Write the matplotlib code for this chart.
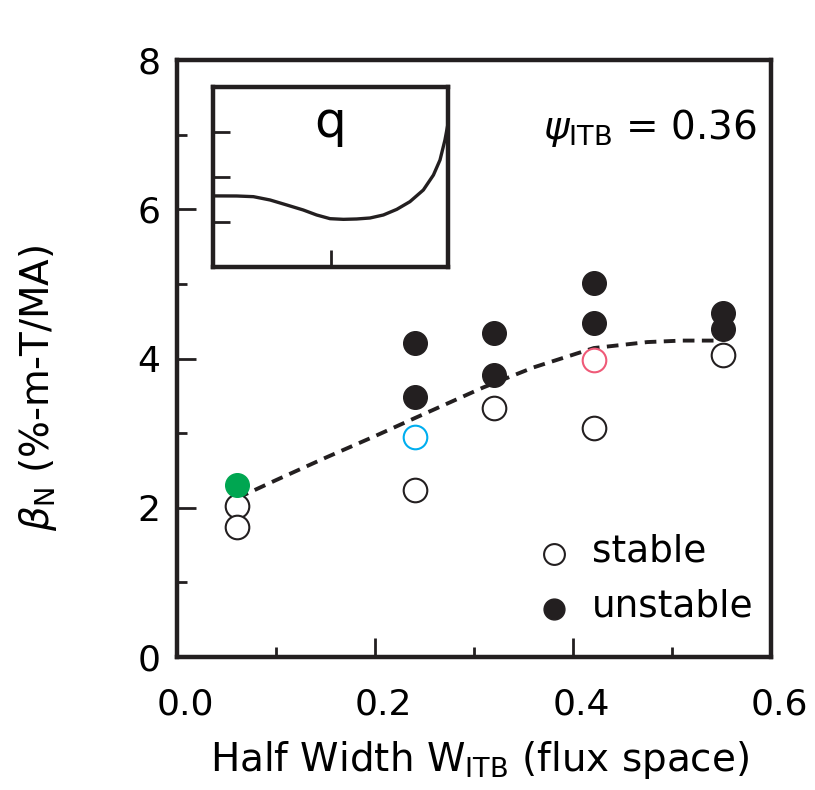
import matplotlib
matplotlib.use("Agg")
from matplotlib import pyplot as plt
from matplotlib.ticker import MultipleLocator
from matplotlib.transforms import ScaledTranslation

# main panel data
stable_x = [0.061, 0.061, 0.240, 0.320, 0.421, 0.552]
stable_y = [2.02, 1.74, 2.24, 3.34, 3.07, 4.05]
unstable_x = [0.240, 0.240, 0.320, 0.320, 0.421, 0.421, 0.552, 0.552]
unstable_y = [4.21, 3.49, 4.34, 3.78, 5.01, 4.48, 4.61, 4.40]
green_pt = (0.061, 2.31)
cyan_pt = (0.240, 2.95)
pink_pt = (0.421, 3.98)

# dashed trend curve
fit_x = [0.061, 0.10, 0.15, 0.20, 0.240, 0.309, 0.36, 0.421, 0.475, 0.51, 0.546]
fit_y = [2.13, 2.37, 2.67, 2.96, 3.20, 3.61, 3.88, 4.14, 4.22, 4.24, 4.24]

# inset q profile
q_x = [0.0, 0.101, 0.172, 0.243, 0.314, 0.384, 0.441, 0.498, 0.555, 0.611,
       0.668, 0.725, 0.782, 0.838, 0.895, 0.938, 0.966, 0.987, 0.999]
q_y = [1.58, 1.578, 1.563, 1.489, 1.378, 1.267, 1.156, 1.074, 1.059, 1.067,
       1.089, 1.156, 1.281, 1.452, 1.711, 2.044, 2.378, 2.822, 3.156]

ink = '#231f20'

fig = plt.figure(figsize=(8.15, 7.9), dpi=100)
ax = fig.add_axes([177/815, 133/790, 594/815, 597/790])

ax.plot(fit_x, fit_y, color=ink, lw=2.8, dashes=(3.0, 1.9), zorder=2)
ax.plot(stable_x, stable_y, 'o', ms=17, mfc='white', mec=ink, mew=1.5, zorder=3)
ax.plot(unstable_x, unstable_y, 'o', ms=17, mfc=ink, mec=ink, mew=1.0, zorder=3)
ax.plot(*green_pt, 'o', ms=17, mfc='#00a651', mec='#00a651', zorder=4)
ax.plot(*cyan_pt, 'o', ms=17, mfc='white', mec='#00aeef', mew=1.5, zorder=4)
ax.plot(*pink_pt, 'o', ms=17, mfc='white', mec='#ef5a78', mew=1.5, zorder=4)

ax.set_xlim(0, 0.6)
ax.set_ylim(0, 8)
ax.xaxis.set_major_locator(MultipleLocator(0.2))
ax.xaxis.set_minor_locator(MultipleLocator(0.1))
ax.yaxis.set_major_locator(MultipleLocator(2))
ax.yaxis.set_minor_locator(MultipleLocator(1))
ax.set_xticks([0.0, 0.2, 0.4, 0.6])
ax.set_xticklabels(['0.0', '0.2', '0.4', '0.6'])
ax.tick_params(which='both', direction='in', width=2, color=ink, labelsize=26, top=False, right=False)
ax.tick_params(which='major', length=14)
ax.tick_params(which='minor', length=7)
ax.tick_params(axis='x', pad=22)
ax.tick_params(axis='y', pad=12)
shift = ScaledTranslation(8/100, 0, fig.dpi_scale_trans)
for lab in ax.get_xticklabels():
    lab.set_transform(lab.get_transform() + shift)
for s in ax.spines.values():
    s.set_linewidth(3.2)
    s.set_color(ink)

ax.set_xlabel(r'Half Width W$_{\rm ITB}$ (flux space)', fontsize=28)
ax.xaxis.set_label_coords(0.51, -0.138)
ax.set_ylabel(r'$\beta_{\rm N}$ (%-m-T/MA)', fontsize=28)
ax.yaxis.set_label_coords(-0.198, 0.45)

ax.text(0.976, 0.886, r'$\psi_{\rm ITB}$ = 0.36', transform=ax.transAxes,
        fontsize=28, ha='right', va='center')

# legend drawn by hand to match the placement
ax.plot([0.635], [0.172], 'o', ms=15, mfc='white', mec=ink, mew=1.5, transform=ax.transAxes)
ax.plot([0.635], [0.080], 'o', ms=15, mfc=ink, mec=ink, transform=ax.transAxes)
ax.text(0.699, 0.176, 'stable', fontsize=27, ha='left', va='center', transform=ax.transAxes)
ax.text(0.699, 0.084, 'unstable', fontsize=27, ha='left', va='center', transform=ax.transAxes)

# inset with the q profile
ins = fig.add_axes([213/815, 523/790, 235/815, 180/790])
ins.plot(q_x, q_y, color=ink, lw=2.4)
ins.set_xlim(0, 1)
ins.set_ylim(0, 4)
ins.set_xticks([0.5])
ins.set_yticks([1, 2, 3])
ins.tick_params(direction='in', length=12, width=2, color=ink,
                labelbottom=False, labelleft=False)
for s in ins.spines.values():
    s.set_linewidth(3.2)
    s.set_color(ink)
ins.text(0.5, 3.2, 'q', fontsize=36, ha='center', va='center')

fig.savefig('out.png', dpi=100)
